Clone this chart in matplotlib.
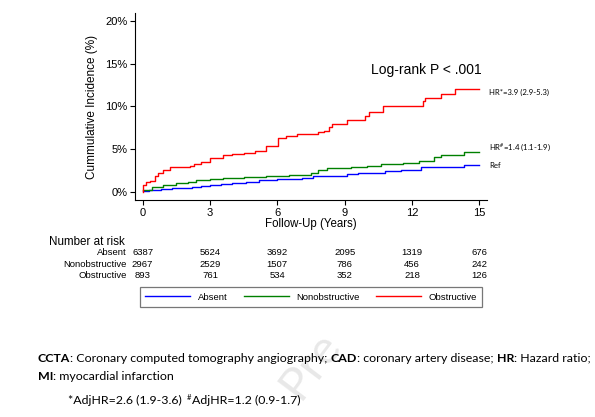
import matplotlib
matplotlib.use('Agg')
import matplotlib.pyplot as plt
import matplotlib.transforms as mtransforms
from matplotlib.lines import Line2D
from matplotlib.ticker import FuncFormatter

# Cumulative incidence (%)
absent_t = [0, 0.3, 0.8, 1.3, 1.7, 2.2, 2.6, 3.0, 3.5, 4.0, 4.6, 5.2, 6.0, 6.5, 7.1, 7.6, 8.5, 9.1, 9.6, 10.1, 10.8, 11.5, 12.0, 12.4, 14.3, 15.0]
absent_v = [0.2, 0.3, 0.4, 0.5, 0.55, 0.65, 0.75, 0.85, 0.95, 1.05, 1.25, 1.4, 1.55, 1.6, 1.7, 1.95, 1.95, 2.1, 2.2, 2.3, 2.45, 2.6, 2.65, 2.9, 3.2, 3.2]

nonobs_t = [0, 0.4, 0.9, 1.5, 2.0, 2.4, 3.0, 3.6, 4.5, 5.5, 6.5, 7.5, 7.8, 8.2, 9.3, 10.0, 10.6, 11.6, 12.3, 13.0, 13.3, 14.3, 15.0]
nonobs_v = [0.3, 0.6, 0.8, 1.05, 1.2, 1.4, 1.55, 1.7, 1.75, 1.9, 2.0, 2.2, 2.6, 2.8, 2.9, 3.1, 3.3, 3.45, 3.65, 4.15, 4.4, 4.7, 4.7]

obs_t = [0, 0.03, 0.15, 0.35, 0.55, 0.7, 0.9, 1.2, 1.9, 2.1, 2.3, 2.6, 3.0, 3.6, 4.0, 4.5, 5.0, 5.5, 6.05, 6.4, 6.9, 7.8, 8.1, 8.3, 8.45, 9.1, 9.9, 10.1, 10.7, 12.5, 12.6, 13.3, 13.9, 15.0]
obs_v = [0, 0.85, 1.2, 1.3, 1.9, 2.3, 2.6, 2.9, 3.0, 3.1, 3.3, 3.5, 4.0, 4.3, 4.5, 4.6, 4.8, 5.4, 6.3, 6.6, 6.8, 7.0, 7.2, 7.65, 8.0, 8.4, 8.9, 9.4, 10.0, 10.6, 11.0, 11.4, 12.0, 12.0]

groups = ['Absent', 'Nonobstructive', 'Obstructive']
colors = ['#0000ff', '#008000', '#ff0000']

risk_times = [0, 3, 6, 9, 12, 15]
risk_absent = [6387, 5624, 3692, 2095, 1319, 676]
risk_nonobs = [2967, 2529, 1507, 786, 456, 242]
risk_obs = [893, 761, 534, 352, 218, 126]

hr_labels = ['Ref', 'HR$^{\\#}$=1.4 (1.1-1.9)', 'HR*=3.9 (2.9-5.3)']
hr_label_y = [3.1, 5.2, 11.7]

plt.rcParams['font.family'] = 'Liberation Sans'
plt.rcParams['mathtext.fontset'] = 'custom'
plt.rcParams['mathtext.rm'] = 'Lato'
plt.rcParams['mathtext.bf'] = 'Lato:bold'
plt.rcParams['mathtext.it'] = 'Lato:italic'
plt.rcParams['mathtext.default'] = 'regular'

W, H = 595, 417
fig = plt.figure(figsize=(W / 100, H / 100), dpi=100)
renderer = fig.canvas.get_renderer()

ax = fig.add_axes([135 / W, 1 - 200 / H, (486.7 - 135) / W, (200 - 13) / H])
curves = [(absent_t, absent_v), (nonobs_t, nonobs_v), (obs_t, obs_v)]
for (t, v), c in zip(curves, colors):
    ax.step(t, v, where='post', color=c, lw=1.0)

ax.set_xlim(-0.34, 15.33)
ax.set_ylim(-0.9, 20.9)
ax.set_xticks([0, 3, 6, 9, 12, 15])
ax.set_yticks([0, 5, 10, 15, 20])
ax.yaxis.set_major_formatter(FuncFormatter(lambda v, p: '%d%%' % v))
ax.tick_params(labelsize=8, length=3.6, width=0.8, pad=2)
for s in ['top', 'right']:
    ax.spines[s].set_visible(False)
for s in ['left', 'bottom']:
    ax.spines[s].set_linewidth(0.8)
ax.set_ylabel('Cummulative Incidence (%)', fontsize=8.5, labelpad=5)
ax.set_xlabel('Follow-Up (Years)', fontsize=8.3, labelpad=0)

ax.text(15.1, 14.3, 'Log-rank P < .001', fontsize=10, ha='right', va='center')
for lab, yv in zip(hr_labels, hr_label_y):
    ax.text(15.43, yv, lab, fontsize=5.6, family='Lato', va='center', ha='left')

# number at risk table, columns aligned with the x ticks
col_tr = mtransforms.blended_transform_factory(ax.transData, fig.transFigure)
fig.text(49.3 / W, 1 - 241.7 / H, 'Number at risk', fontsize=8.4, va='center')
rows = [risk_absent, risk_nonobs, risk_obs]
row_y = [252.7, 264.2, 275.8]
for name, vals, yp in zip(groups, rows, row_y):
    fig.text(126.7 / W, 1 - yp / H, name, fontsize=6.8, ha='right', va='center')
    for t, n in zip(risk_times, vals):
        fig.text(t, 1 - yp / H, str(n), fontsize=6.8, ha='center', va='center',
                 transform=col_tr)

handles = [Line2D([], [], color=c, lw=1.0) for c in colors]
leg = fig.legend(handles, groups, ncol=3, loc='center',
                 bbox_to_anchor=(311 / W, 1 - 297 / H), fontsize=6.8,
                 handlelength=4.8, handletextpad=0.8, columnspacing=1.7,
                 frameon=True, fancybox=False, borderpad=0.55, borderaxespad=0)
leg.get_frame().set_edgecolor('#555555')
leg.get_frame().set_linewidth(0.9)

# faint watermark fragment ("Pre") peeking out below the chart
fig.text(300, H - 401, 'Pre', fontsize=34, family='Lato', color='#e8e8e8', rotation=53,
         rotation_mode='anchor', ha='left', va='baseline', transform=None, zorder=0)

# caption below the chart (mixed bold runs)
cap_size = 8.9
cap_font = 'Lato'


def text_width(s, bold=False):
    t = fig.text(0, 0, s, fontsize=cap_size, family=cap_font, weight='bold' if bold else 'normal')
    w = t.get_window_extent(renderer).width
    t.remove()
    return w


def write_runs(x, y, runs):
    space = text_width('a a') - text_width('aa')
    for txt, bold in runs:
        if txt == ' ':
            x += space
            continue
        t = fig.text(x, y, txt, fontsize=cap_size, family=cap_font,
                     weight='bold' if bold else 'normal', transform=None, va='baseline')
        x += t.get_window_extent(renderer).width


write_runs(37.7, H - 361.7, [('CCTA', True), (': Coronary computed tomography angiography;', False), (' ', False),
                             ('CAD', True), (': coronary artery disease;', False), (' ', False),
                             ('HR', True), (': Hazard ratio;', False)])
write_runs(37.7, H - 380, [('MI', True), (': myocardial infarction', False)])
fig.text(68.3, H - 404, '*AdjHR=2.6 (1.9-3.6)', fontsize=cap_size, family=cap_font, transform=None, va='baseline')
fig.text(187.0, H - 404 + 4, '#', fontsize=5.5, family=cap_font, transform=None, va='baseline')
fig.text(191.5, H - 404, 'AdjHR=1.2 (0.9-1.7)', fontsize=cap_size, family=cap_font, transform=None, va='baseline')

fig.savefig('out.png', dpi=100)
